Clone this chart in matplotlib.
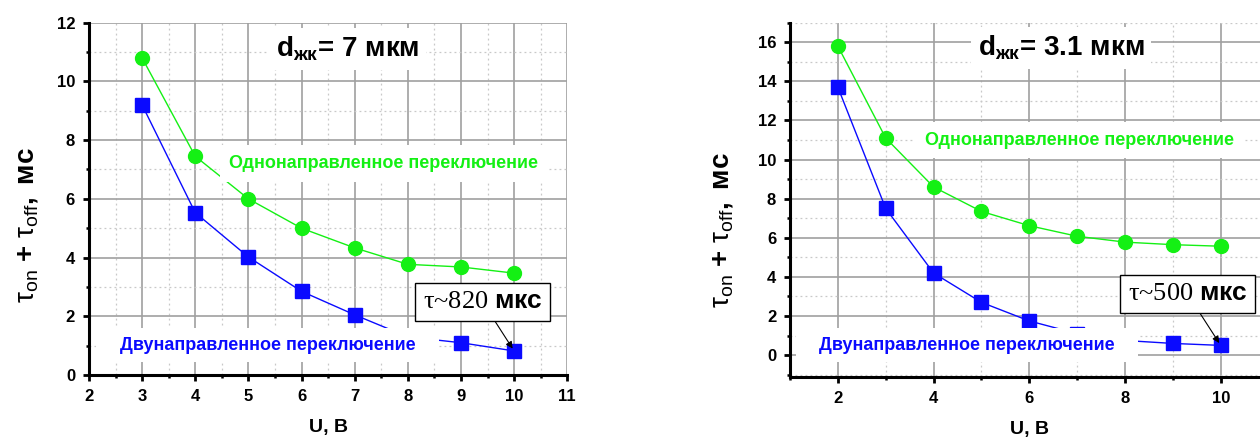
import matplotlib
matplotlib.use("Agg")
import matplotlib.pyplot as plt
from matplotlib.ticker import MultipleLocator

plt.rcParams['font.family'] = ['Liberation Sans', 'DejaVu Sans']
plt.rcParams['mathtext.fontset'] = 'custom'
plt.rcParams['mathtext.rm'] = 'Liberation Serif'
plt.rcParams['mathtext.sf'] = 'Liberation Sans'
plt.rcParams['mathtext.bf'] = 'Liberation Sans:bold'
plt.rcParams['mathtext.it'] = 'Liberation Sans:italic'

# ---- data: 7 um cell ----
u_thick = [3, 4, 5, 6, 7, 8, 9, 10]
uni_thick = [10.8, 7.45, 6.0, 5.0, 4.33, 3.77, 3.68, 3.47]
bi_thick = [9.2, 5.53, 4.02, 2.85, 2.05, 1.3, 1.1, 0.82]

# ---- data: 3.1 um cell ----
u_thin = [2, 3, 4, 5, 6, 7, 8, 9, 10]
uni_thin = [15.8, 11.1, 8.6, 7.35, 6.62, 6.08, 5.78, 5.65, 5.57]
bi_thin = [13.7, 7.5, 4.2, 2.7, 1.75, 1.1, 0.75, 0.6, 0.5]

uni_label = "Однонаправленное переключение"
bi_label = "Двунаправленное переключение"
xlabel = "U, В"
ylabel = r"τ$_\mathsf{on}$ $\mathbf{+}$ τ$_\mathsf{off}$$\mathbf{,\ мс}$"

GREEN = "#14f014"
BLUE = "#0a0aff"

fig = plt.figure(figsize=(12.6, 4.38), dpi=100)

panels = [
    dict(rect=[0.0706, 0.1438, 0.3796, 0.8044], xlim=(2, 11), ylim=(0, 12),
         xmaj=1, xmin=0.5, ymaj=2, ymin=1,
         u=u_thick, uni=uni_thick, bi=bi_thick,
         title=r"d$_\mathbf{жк}$= 7 мкм", title_xy=(6.87, 11.1),
         uni_xy=(7.55, 7.2), bi_xy=(5.36, 1.02),
         note="τ~820 $\\mathbf{мкс}$", note_xy=(9.41, 2.48), target=(10, 0.82),
         ylab_xy=(0.0214, 0.486)),
    dict(rect=[0.627, 0.140, 0.3798, 0.8082], xlim=(1, 11), ylim=(-1.1, 17),
         xmaj=2, xmin=1, ymaj=2, ymin=1,
         u=u_thin, uni=uni_thin, bi=bi_thin,
         title=r"d$_\mathbf{жк}$= 3.1 мкм", title_xy=(6.66, 15.7),
         uni_xy=(7.05, 11.0), bi_xy=(4.70, 0.51),
         note="τ~500 $\\mathbf{мкс}$", note_xy=(9.31, 3.12), target=(10, 0.5),
         ylab_xy=(0.573, 0.475)),
]

for p in panels:
    ax = fig.add_axes(p["rect"])
    ax.set_xlim(*p["xlim"])
    ax.set_ylim(*p["ylim"])
    ax.xaxis.set_major_locator(MultipleLocator(p["xmaj"]))
    ax.xaxis.set_minor_locator(MultipleLocator(p["xmin"]))
    ax.yaxis.set_major_locator(MultipleLocator(p["ymaj"]))
    ax.yaxis.set_minor_locator(MultipleLocator(p["ymin"]))

    ax.set_axisbelow(True)
    ax.grid(which="major", color="#a0a0a0", lw=1.2, ls="-")
    ax.grid(which="minor", color="#c8c8c8", lw=0.9, ls=(0, (1.5, 2.5)))

    for s in ("top", "right"):
        ax.spines[s].set_visible(False)
    for s in ("left", "bottom"):
        ax.spines[s].set_linewidth(2.2)
    ax.tick_params(which="major", direction="out", length=4, width=2, pad=6,
                   labelsize=12)
    ax.tick_params(which="minor", direction="out", length=2, width=1.8)
    for lbl in ax.get_xticklabels() + ax.get_yticklabels():
        lbl.set_fontweight("bold")

    ax.plot(p["u"], p["uni"], color=GREEN, lw=1.0, marker="o", ms=10,
            mec=GREEN, mfc=GREEN, zorder=3)
    ax.plot(p["u"], p["bi"], color=BLUE, lw=1.0, marker="s", ms=9.5,
            mec=BLUE, mfc=BLUE, zorder=3)

    ax.text(*p["title_xy"], p["title"], fontsize=20, fontweight="bold",
            ha="center", va="center", zorder=5,
            bbox=dict(facecolor="white", edgecolor="none", pad=5))
    ax.text(*p["uni_xy"], uni_label, color=GREEN, fontsize=13,
            fontweight="bold", ha="center", va="center", zorder=5,
            bbox=dict(facecolor="white", edgecolor="none", pad=7))
    # wider white backing than the text itself
    ax.text(*p["bi_xy"], "   " + bi_label + "   ", color=BLUE, fontsize=13,
            fontweight="bold", ha="center", va="center", zorder=5,
            bbox=dict(facecolor="white", edgecolor="none", pad=6))

    ax.annotate(p["note"], xy=p["target"], xytext=p["note_xy"],
                fontsize=19, family="Liberation Serif", ha="center",
                va="center", zorder=6,
                bbox=dict(boxstyle="square,pad=0.3", facecolor="white",
                          edgecolor="black", lw=1.0),
                arrowprops=dict(arrowstyle="-|>", color="black", lw=0.8,
                                mutation_scale=10, shrinkA=0, shrinkB=2))

    ax.set_xlabel(xlabel, fontsize=14, fontweight="bold", labelpad=11)
    fig.text(*p["ylab_xy"], ylabel, fontsize=20, rotation=90,
             ha="center", va="center")

fig.savefig("out.png", dpi=100)
